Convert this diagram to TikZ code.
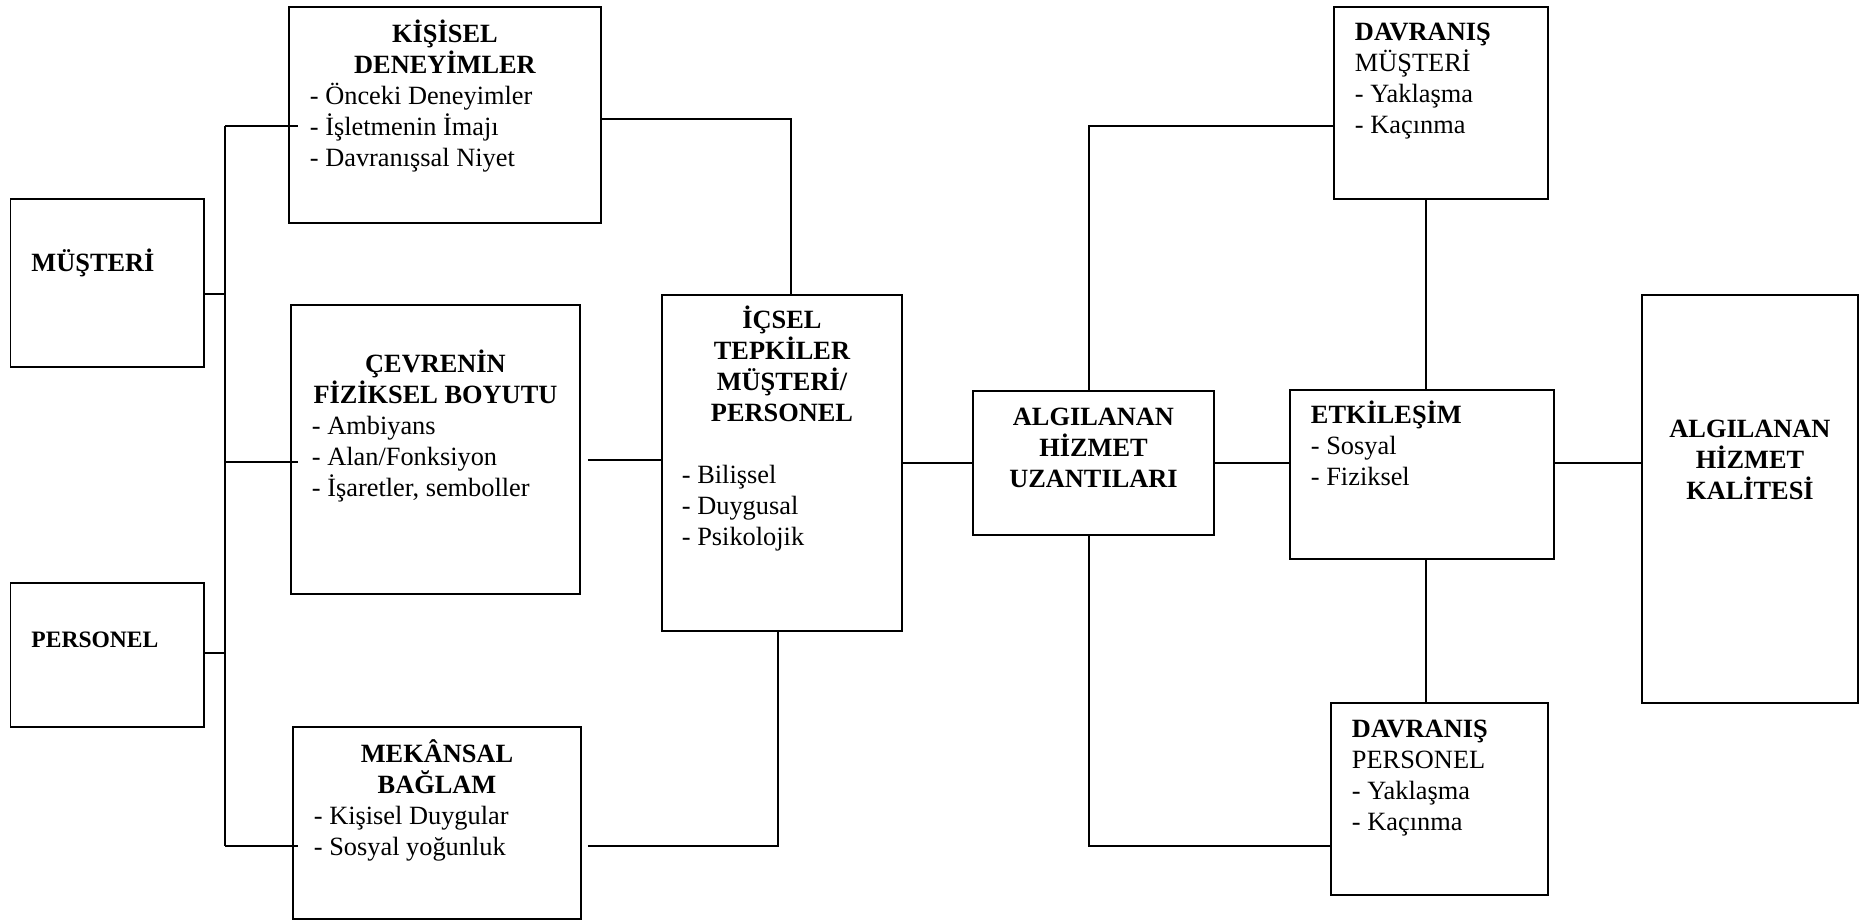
\documentclass[tikz,border=0pt]{standalone}
\usepackage{fontspec}
\setmainfont{Liberation Serif}
\usepackage{tikz}
\usetikzlibrary{calc}

\newdimen\pxu \pxu=0.02cm
\newcommand{\icerik}[4]{\parbox[c][#2\pxu][t]{#1\pxu}{\vspace*{\dimexpr#3\pxu-24\pxu\relax}\rule{0pt}{24\pxu}#4}}
\newcommand{\liste}[2][21]{{\leftskip=#1\pxu #2\par}}

\begin{document}
\begin{tikzpicture}[x=0.02cm, y=-0.02cm,
    kutu/.style={draw, line width=1.1pt, inner sep=0pt, anchor=north west, font=\fontsize{15}{17.6}\selectfont},
    hat/.style={line width=1.1pt}]
        \useasboundingbox (0,0) rectangle (1869,921);

        % Sol kutular
        \node[kutu] (mus) at (9.5,198) {\icerik{193.5}{168}{73}{\liste{\bfseries MÜŞTERİ}}};
        \node[kutu] (per) at (9.5,582) {\icerik{193.5}{144}{65}{\liste{\fontsize{13.4}{16}\selectfont\bfseries PERSONEL}}};

        % Orta sutun
        \node[kutu] (kis) at (288,6) {\icerik{312}{216}{36}{{\centering\bfseries KİŞİSEL\\DENEYİMLER\par}\liste{- Önceki Deneyimler\\- İşletmenin İmajı\\- Davranışsal Niyet}}};
        \node[kutu] (cev) at (290,304) {\icerik{289}{289}{68}{{\centering\bfseries ÇEVRENİN\\FİZİKSEL BOYUTU\par}\liste{- Ambiyans\\- Alan/Fonksiyon\\- İşaretler, semboller}}};
        \node[kutu] (mek) at (292,726) {\icerik{288}{192}{36}{{\centering\bfseries MEKÂNSAL\\BAĞLAM\par}\liste{- Kişisel Duygular\\- Sosyal yoğunluk}}};
        \node[kutu] (ics) at (661,294) {\icerik{240}{336}{34}{{\centering\bfseries İÇSEL\\TEPKİLER\\MÜŞTERİ/\\PERSONEL\par}\vspace{17.6pt}\liste[20]{- Bilişsel\\- Duygusal\\- Psikolojik}}};
        \node[kutu] (alg) at (972,390) {\icerik{241}{144}{35}{{\centering\bfseries ALGILANAN\\HİZMET\\UZANTILARI\par}}};

        % Sag taraf
        \node[kutu] (dm) at (1333,6) {\icerik{214}{192}{34}{\liste{\textbf{DAVRANIŞ}\\MÜŞTERİ\\- Yaklaşma\\- Kaçınma}}};
        \node[kutu] (etk) at (1289,389) {\icerik{264}{169}{34}{\liste{\textbf{ETKİLEŞİM}\\- Sosyal\\- Fiziksel}}};
        \node[kutu] (dp) at (1330,702) {\icerik{217}{192}{35}{\liste{\textbf{DAVRANIŞ}\\PERSONEL\\- Yaklaşma\\- Kaçınma}}};
        \node[kutu] (kal) at (1641,294) {\icerik{216}{408}{143}{{\centering\bfseries ALGILANAN\\HİZMET\\KALİTESİ\par}}};

        % Sol baglantilar
        \coordinate (b1) at (225,126);
        \coordinate (b2) at (225,294);
        \coordinate (b3) at (225,462);
        \coordinate (b4) at (225,653);
        \coordinate (b5) at (225,846);
        \draw[hat] (b1) -- (b5);
        \draw[hat] (mus.east |- b2) -- (b2);
        \draw[hat] (per.east |- b4) -- (b4);
        \draw[hat] (b1) -- ($(kis.west |- b1)+(10,0)$);
        \draw[hat] (b3) -- ($(cev.west |- b3)+(8,0)$);
        \draw[hat] (b5) -- ($(mek.west |- b5)+(6,0)$);

        % Icsel tepkilere
        \coordinate (i1) at (791,119);
        \coordinate (i2) at (0,460);
        \coordinate (i3) at (778,846);
        \draw[hat] (kis.east |- i1) -- (i1) -- (i1 |- ics.north);
        \draw[hat] ($(cev.east |- i2)+(7,0)$) -- (ics.west |- i2);
        \draw[hat] ($(mek.east |- i3)+(6,0)$) -- (i3) -- (i3 |- ics.south);
        \draw[hat] (ics.east) -- (alg.west);

        % Sag baglantilar
        \coordinate (a1) at (1089,126);
        \coordinate (a2) at (1089,846);
        \coordinate (e1) at (1426,0);
        \draw[hat] (dm.west |- a1) -- (a1) -- (a1 |- alg.north);
        \draw[hat] (dp.west |- a2) -- (a2) -- (a2 |- alg.south);
        \draw[hat] (alg.east) -- (alg.east -| etk.west);
        \draw[hat] (e1 |- dm.south) -- (e1 |- etk.north);
        \draw[hat] (e1 |- etk.south) -- (e1 |- dp.north);
        \draw[hat] (alg.east -| etk.east) -- (alg.east -| kal.west);
\end{tikzpicture}
\end{document}
